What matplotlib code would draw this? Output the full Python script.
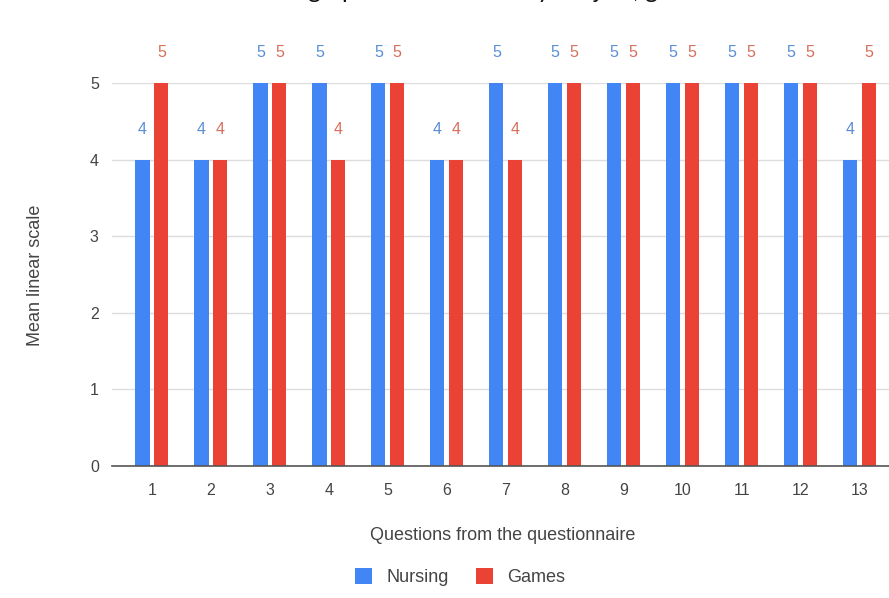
import matplotlib
matplotlib.use("Agg")
import matplotlib.pyplot as plt
import numpy as np
from matplotlib.patches import Patch

questions = [str(i) for i in range(1, 14)]
nursing = [4, 4, 5, 5, 5, 4, 5, 5, 5, 5, 5, 5, 4]
games = [5, 4, 5, 4, 5, 4, 4, 5, 5, 5, 5, 5, 5]
series_names = ["Nursing", "Games"]
y_ticks = [0, 1, 2, 3, 4, 5]

BLUE = "#4285F4"
RED = "#EA4335"
BLUE_LBL = "#5b8fd6"
RED_LBL = "#d6705f"
TXT = "#444444"

plt.rcParams['font.family'] = ['Liberation Sans', 'DejaVu Sans']

W, H = 889, 598
fig = plt.figure(figsize=(W / 100, H / 100), dpi=100)
ax = fig.add_axes([112 / W, 1 - 466 / H, 1 - 112 / W, (466 - 83) / H])

x = np.arange(1, len(questions) + 1)
bw = 0.24
off = 0.16
ax.bar(x - off, nursing, bw, color=BLUE, zorder=3)
ax.bar(x + off, games, bw, color=RED, zorder=3)

for xi, v in zip(x - off, nursing):
    ax.annotate(str(v), (xi, v), xytext=(0, 22), textcoords='offset points',
                ha='center', va='center', fontsize=11.5, color=BLUE_LBL,
                annotation_clip=False)
for xi, v in zip(x + off, games):
    ax.annotate(str(v), (xi, v), xytext=(0, 22), textcoords='offset points',
                ha='center', va='center', fontsize=11.5, color=RED_LBL,
                annotation_clip=False)

ax.set_xlim(1 - 40 / 59, 13.5)
ax.set_ylim(0, 5)
ax.set_yticks(y_ticks)
ax.set_yticklabels([str(t) for t in y_ticks])
ax.set_xticks(x)
ax.set_xticklabels(questions)
for s in ax.spines.values():
    s.set_visible(False)
ax.tick_params(axis='y', length=0, pad=9.5, labelsize=11.5, labelcolor=TXT)
ax.tick_params(axis='x', length=0, pad=12.5, labelsize=11.5, labelcolor=TXT)
ax.grid(axis='y', color='#dddddd', linewidth=1, zorder=0)
ax.set_axisbelow(True)
ax.axhline(0, color='#555555', linewidth=1.2, zorder=4, clip_on=False)

fig.text(35 / W, 1 - 275 / H, "Mean linear scale", rotation=90, ha='center',
         va='center', fontsize=13, color=TXT)
fig.text(503 / W, 1 - 536 / H, "Questions from the questionnaire", ha='center',
         va='center', fontsize=13, color=TXT)

handles = [Patch(facecolor=BLUE, edgecolor='none'), Patch(facecolor=RED, edgecolor='none')]
fig.legend(handles, series_names, loc='center', bbox_to_anchor=(460 / W, 1 - 577 / H),
           ncol=2, frameon=False, fontsize=13, handlelength=0.95, handleheight=0.95,
           handletextpad=0.8, columnspacing=1.5, labelcolor=TXT, borderpad=0.2)

fig.text(493 / W, 1 + 2.0 / H, "Bar graph of the results by subject, gender",
         ha='center', va='baseline', fontsize=17.6, color='#111111',
         family=['Lato', 'DejaVu Sans'])

fig.savefig("out.png", dpi=100, facecolor='white')
